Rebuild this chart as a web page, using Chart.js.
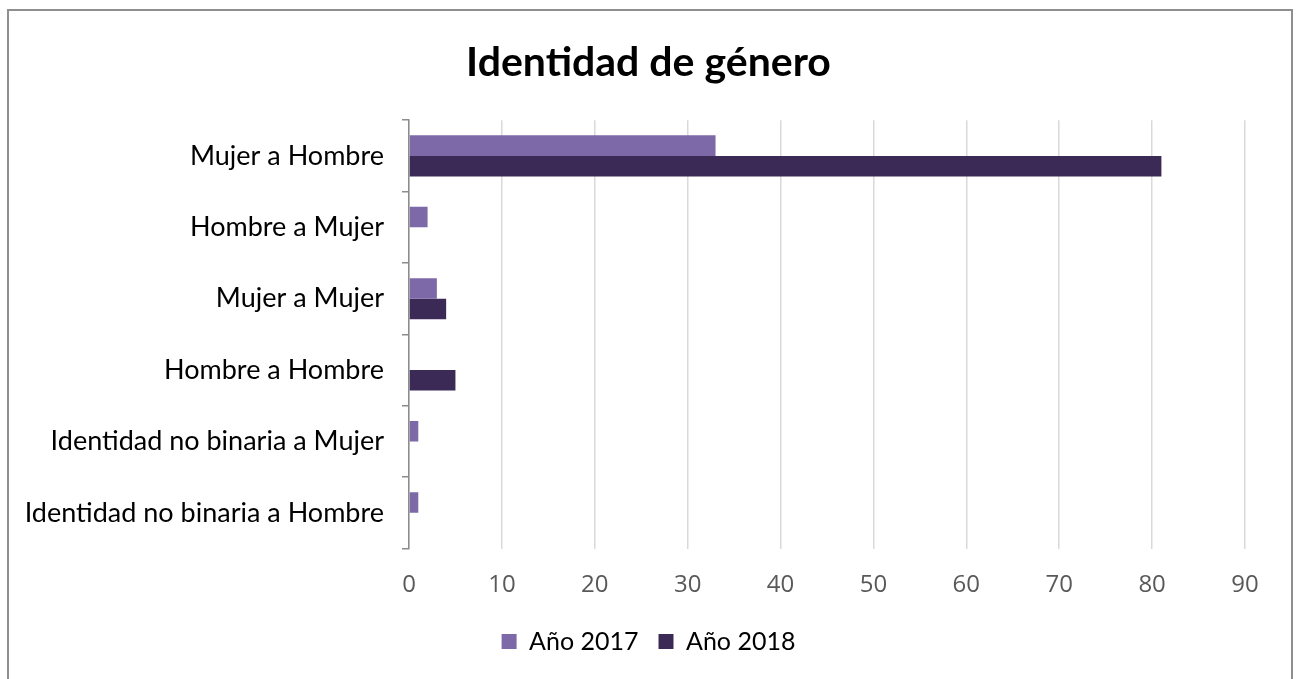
<!DOCTYPE html>
<html>
<head>
<meta charset="utf-8">
<script src="https://cdn.jsdelivr.net/npm/chart.js@4"></script>
<style>
  html, body { margin: 0; padding: 0; background: #fff; overflow: hidden; }
  #frame { position: absolute; left: 7px; top: 9px; width: 1282px; height: 700px; border: 2px solid #8f8f8f; }
  #wrap { position: absolute; left: 0; top: 0; width: 1297px; height: 679px; }
</style>
</head>
<body>
<div id="frame"></div>
<div id="wrap"><canvas id="generoChart"></canvas></div>
<script>
var categorias = ['Mujer a Hombre', 'Hombre a Mujer', 'Mujer a Mujer', 'Hombre a Hombre',
  'Identidad no binaria a Mujer', 'Identidad no binaria a Hombre'];
var anio2017 = [33, 2, 3, 0, 1, 1];
var anio2018 = [81, 0, 4, 5, 0, 0];
var ejeX = { min: 0, max: 90, paso: 10 };

var data = {
  labels: categorias,
  datasets: [
    { label: 'Año 2017', data: anio2017, backgroundColor: '#7d68a8' },
    { label: 'Año 2018', data: anio2018, backgroundColor: '#3c2a56' }
  ]
};

var options = {
  indexAxis: 'y',
  responsive: true,
  maintainAspectRatio: false,
  animation: false,
  layout: { padding: { left: 0, right: 0, top: 0, bottom: 15 } },
  datasets: { bar: { barPercentage: 1, categoryPercentage: 0.575, borderWidth: 0 } },
  plugins: {
    title: {
      display: true,
      text: 'Identidad de género',
      color: '#000',
      font: { family: 'Lato', size: 41, weight: 'bold' },
      padding: { top: 38, bottom: 33 }
    },
    legend: {
      position: 'bottom',
      labels: {
        color: '#000',
        boxWidth: 15,
        boxHeight: 15,
        padding: 20,
        font: { family: 'Lato', size: 25 }
      }
    },
    tooltip: { enabled: false }
  },
  scales: {
    x: {
      min: ejeX.min,
      max: ejeX.max,
      ticks: { stepSize: ejeX.paso, color: '#595959', padding: 22, font: { family: 'Open Sans', size: 24 } },
      grid: { color: '#d9d9d9', lineWidth: 1.5, drawTicks: false },
      border: { display: false },
      afterFit: function(scale) { scale.height = 60.5; }
    },
    y: {
      ticks: { color: '#000', padding: 18, font: { family: 'Lato', size: 27 } },
      grid: { drawOnChartArea: false, drawTicks: true, tickLength: 7, color: '#8c8c8c', lineWidth: 1.5 },
      border: { display: true, color: '#8c8c8c', width: 1.5 },
      afterFit: function(scale) { scale.width = 409; }
    },
    // empty right axis, only reserves the space right of the plot
    yRight: {
      type: 'category',
      axis: 'y',
      position: 'right',
      ticks: { display: false },
      grid: { display: false },
      border: { display: false },
      afterFit: function(scale) { scale.width = 52; }
    }
  }
};

new Chart(document.getElementById('generoChart').getContext('2d'), { type: 'bar', data: data, options: options });
</script>
</body>
</html>
